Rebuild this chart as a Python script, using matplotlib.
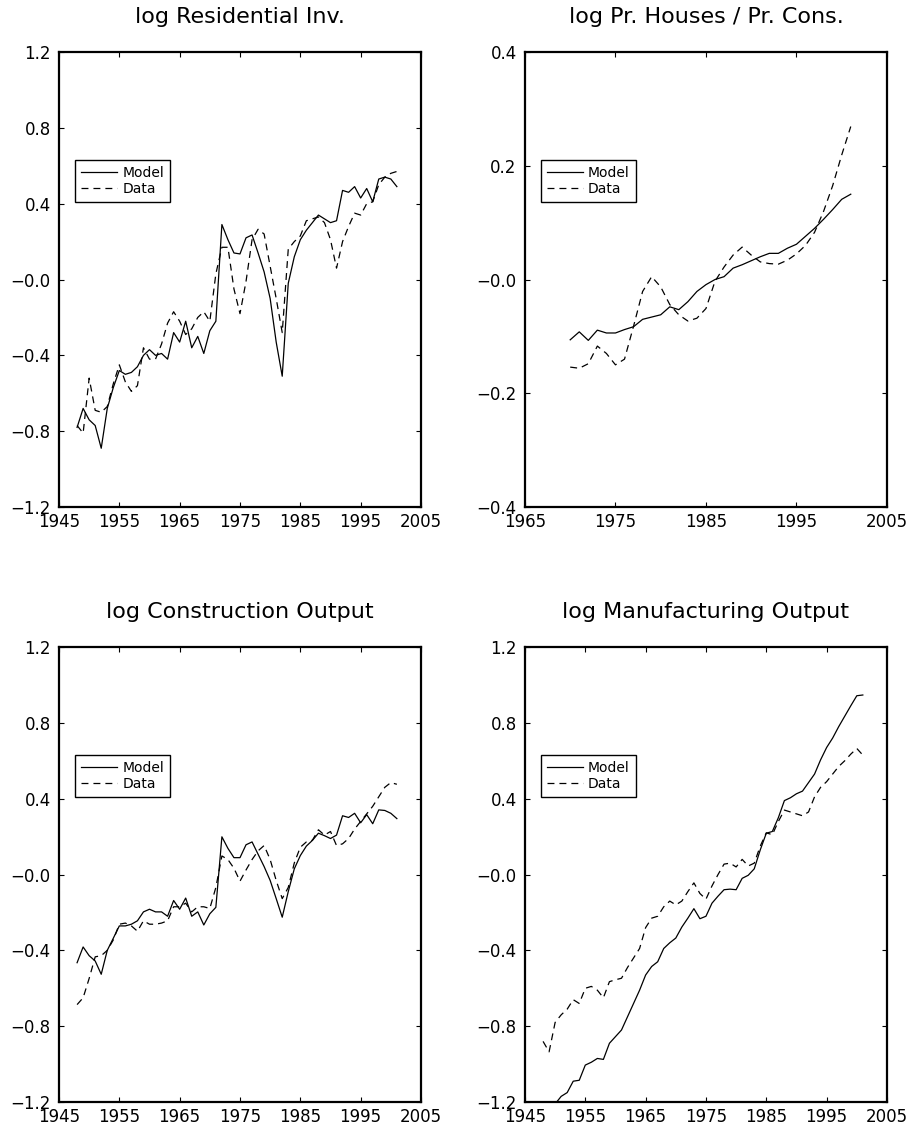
import matplotlib

matplotlib.use("Agg")
import matplotlib.pyplot as plt
from matplotlib.ticker import FixedLocator, FuncFormatter


plt.rcParams["font.family"] = ["DejaVu Sans"]
plt.rcParams["lines.scale_dashes"] = False

# Annual series, model vs. data
YEARS_POSTWAR = list(range(1948, 2002))
YEARS_PRICE = list(range(1970, 2002))

RES_INV_MODEL = [
    -0.78, -0.68, -0.74, -0.77, -0.89, -0.68, -0.57, -0.48, -0.50, -0.49,
    -0.46, -0.40, -0.37, -0.40, -0.39, -0.42, -0.28, -0.33, -0.22, -0.36,
    -0.30, -0.39, -0.27, -0.22, 0.29, 0.21, 0.14, 0.135, 0.22, 0.235,
    0.14, 0.04, -0.10, -0.33, -0.51, -0.02, 0.12, 0.21, 0.26, 0.30,
    0.34, 0.32, 0.30, 0.31, 0.47, 0.46, 0.49, 0.43, 0.48, 0.41,
    0.53, 0.54, 0.53, 0.49,
]
RES_INV_DATA = [
    -0.77, -0.81, -0.52, -0.69, -0.70, -0.67, -0.55, -0.45, -0.54, -0.59,
    -0.56, -0.36, -0.42, -0.42, -0.34, -0.23, -0.17, -0.22, -0.29, -0.26,
    -0.20, -0.17, -0.22, 0.03, 0.17, 0.17, -0.05, -0.18, -0.01, 0.21,
    0.265, 0.24, 0.07, -0.10, -0.28, 0.16, 0.20, 0.23, 0.31, 0.32,
    0.33, 0.30, 0.21, 0.06, 0.20, 0.28, 0.35, 0.34, 0.40, 0.41,
    0.50, 0.54, 0.56, 0.57,
]

PRICE_MODEL = [
    -0.106, -0.092, -0.107, -0.089, -0.094, -0.094, -0.088, -0.083, -0.070, -0.066,
    -0.062, -0.048, -0.053, -0.039, -0.021, -0.009, 0.000, 0.005, 0.020, 0.026,
    0.033, 0.040, 0.046, 0.046, 0.055, 0.062, 0.076, 0.090, 0.106, 0.123,
    0.141, 0.150,
]
PRICE_DATA = [
    -0.154, -0.156, -0.148, -0.117, -0.130, -0.150, -0.140, -0.082, -0.021, 0.005,
    -0.013, -0.044, -0.062, -0.073, -0.068, -0.051, -0.003, 0.022, 0.043, 0.057,
    0.043, 0.031, 0.028, 0.027, 0.034, 0.045, 0.060, 0.083, 0.120, 0.165,
    0.219, 0.269,
]

CONSTR_MODEL = [
    -0.465, -0.382, -0.428, -0.456, -0.526, -0.400, -0.336, -0.271, -0.271, -0.262,
    -0.244, -0.197, -0.183, -0.197, -0.197, -0.220, -0.137, -0.183, -0.124, -0.220,
    -0.197, -0.266, -0.207, -0.173, 0.199, 0.138, 0.089, 0.089, 0.157, 0.172,
    0.107, 0.042, -0.031, -0.127, -0.225, -0.090, 0.030, 0.100, 0.150, 0.180,
    0.218, 0.205, 0.190, 0.208, 0.310, 0.301, 0.323, 0.273, 0.316, 0.268,
    0.341, 0.338, 0.323, 0.295,
]
CONSTR_DATA = [
    -0.686, -0.650, -0.548, -0.434, -0.428, -0.400, -0.345, -0.262, -0.256, -0.271,
    -0.299, -0.244, -0.262, -0.262, -0.256, -0.244, -0.170, -0.170, -0.151, -0.197,
    -0.170, -0.170, -0.179, -0.068, 0.098, 0.079, 0.033, -0.035, 0.024, 0.079,
    0.125, 0.153, 0.079, -0.031, -0.127, -0.068, 0.061, 0.144, 0.172, 0.181,
    0.236, 0.208, 0.227, 0.153, 0.162, 0.190, 0.240, 0.280, 0.320, 0.360,
    0.410, 0.460, 0.485, 0.476,
]

MANUF_MODEL = [
    -1.30, -1.25, -1.21, -1.17, -1.15, -1.09, -1.085, -1.005, -0.99, -0.97,
    -0.975, -0.89, -0.855, -0.82, -0.75, -0.68, -0.61, -0.53, -0.485, -0.46,
    -0.39, -0.36, -0.335, -0.277, -0.23, -0.18, -0.233, -0.22, -0.151, -0.114,
    -0.08, -0.077, -0.08, -0.02, -0.004, 0.03, 0.13, 0.218, 0.227, 0.30,
    0.39, 0.405, 0.426, 0.44, 0.485, 0.53, 0.605, 0.67, 0.72, 0.78,
    0.835, 0.89, 0.943, 0.947,
]
MANUF_DATA = [
    -0.88, -0.935, -0.78, -0.74, -0.71, -0.66, -0.68, -0.60, -0.59, -0.61,
    -0.65, -0.565, -0.555, -0.547, -0.49, -0.44, -0.39, -0.28, -0.23, -0.22,
    -0.17, -0.14, -0.16, -0.14, -0.09, -0.044, -0.10, -0.13, -0.06, 0.00,
    0.055, 0.06, 0.04, 0.08, 0.045, 0.06, 0.15, 0.22, 0.21, 0.28,
    0.34, 0.33, 0.32, 0.31, 0.33, 0.41, 0.46, 0.49, 0.53, 0.57,
    0.60, 0.635, 0.665, 0.63,
]

TITLES = [
    "log Residential Inv.",
    "log Pr. Houses / Pr. Cons.",
    "log Construction Output",
    "log Manufacturing Output",
]
WIDE_YEAR_TICKS = [1945, 1955, 1965, 1975, 1985, 1995, 2005]
NARROW_YEAR_TICKS = [1965, 1975, 1985, 1995, 2005]
WIDE_VALUE_TICKS = [-1.2, -0.8, -0.4, 0.0, 0.4, 0.8, 1.2]
NARROW_VALUE_TICKS = [-0.4, -0.2, 0.0, 0.2, 0.4]


def signed_label(value, _pos):
    # zero is printed as "-0.0", like the original plotting package
    if abs(value) < 1e-9:
        return "\u22120.0"
    return f"{value:.1f}".replace("-", "\u2212")


def draw_panel(ax, title, years, model, data, xticks, yticks):
    ax.plot(years, model, color="black", lw=0.9, label="Model")
    ax.plot(years, data, color="black", lw=0.9, ls=(0, (5, 3.6)), label="Data")

    ax.set_xlim(xticks[0], xticks[-1])
    ax.set_ylim(yticks[0], yticks[-1])
    ax.xaxis.set_major_locator(FixedLocator(xticks))
    ax.yaxis.set_major_locator(FixedLocator(yticks))
    ax.yaxis.set_major_formatter(FuncFormatter(signed_label))
    ax.tick_params(direction="in", length=3.3, width=0.8, top=True, right=True,
                   labelsize=12, colors="black")
    ax.tick_params(axis="x", pad=4)
    ax.tick_params(axis="y", pad=6)
    for spine in ax.spines.values():
        spine.set_linewidth(1.6)

    ax.set_title(title, fontsize=16, pad=21)
    leg = ax.legend(loc="upper left", bbox_to_anchor=(0.044, 0.763), borderaxespad=0,
                    fontsize=10, fancybox=False, framealpha=1, edgecolor="black",
                    handlelength=2.6, handletextpad=0.35, labelspacing=0.15,
                    borderpad=0.45)
    leg.get_frame().set_linewidth(1.0)


def main() -> None:
    fig = plt.figure(figsize=(9.16, 11.28), dpi=100, facecolor="white")
    left_x, right_x, width = 0.0644, 0.5731, 0.3952
    top_y, bottom_y, height = 0.5505, 0.0230, 0.4034

    ax1 = fig.add_axes([left_x, top_y, width, height])
    ax2 = fig.add_axes([right_x, top_y, width, height])
    ax3 = fig.add_axes([left_x, bottom_y, width, height])
    ax4 = fig.add_axes([right_x, bottom_y, width, height])

    draw_panel(ax1, TITLES[0], YEARS_POSTWAR, RES_INV_MODEL, RES_INV_DATA,
               WIDE_YEAR_TICKS, WIDE_VALUE_TICKS)
    draw_panel(ax2, TITLES[1], YEARS_PRICE, PRICE_MODEL, PRICE_DATA,
               NARROW_YEAR_TICKS, NARROW_VALUE_TICKS)
    draw_panel(ax3, TITLES[2], YEARS_POSTWAR, CONSTR_MODEL, CONSTR_DATA,
               WIDE_YEAR_TICKS, WIDE_VALUE_TICKS)
    draw_panel(ax4, TITLES[3], YEARS_POSTWAR, MANUF_MODEL, MANUF_DATA,
               WIDE_YEAR_TICKS, WIDE_VALUE_TICKS)

    fig.savefig("out.png", dpi=100, facecolor="white")
    plt.close(fig)


if __name__ == "__main__":
    main()
